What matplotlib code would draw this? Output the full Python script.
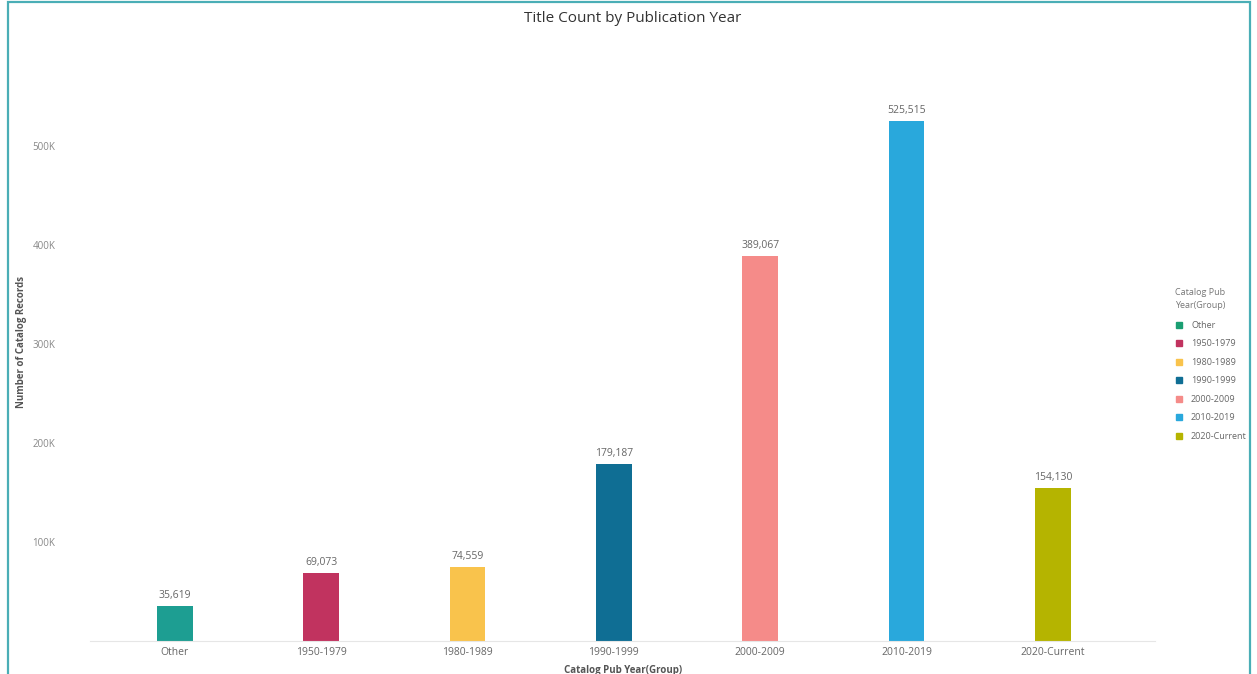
import matplotlib
matplotlib.use("Agg")
import matplotlib.pyplot as plt
from matplotlib.patches import Rectangle
from matplotlib.lines import Line2D

categories = ["Other", "1950-1979", "1980-1989", "1990-1999", "2000-2009", "2010-2019", "2020-Current"]
values = [35619, 69073, 74559, 179187, 389067, 525515, 154130]
colors = ["#1d9e92", "#c1335f", "#f9c34c", "#0f6e94", "#f58b89", "#29a8dc", "#b5b400"]
legend_colors = ["#1a9e72", "#c1335f", "#f9c34c", "#0f6e94", "#f58b89", "#29a8dc", "#b5b400"]
ytick_vals = [100000, 200000, 300000, 400000, 500000]
ytick_labels = ["100K", "200K", "300K", "400K", "500K"]

plt.rcParams['font.family'] = ['Open Sans', 'DejaVu Sans']

fig = plt.figure(figsize=(12.57, 6.74), dpi=100)
ax = fig.add_axes([0.0716, 0.049, 0.8474, 0.887])

x = list(range(len(categories)))
ax.bar(x, values, width=0.245, color=colors)
for xi, v in zip(x, values):
    ax.text(xi, v + 5000, f"{v:,}", ha="center", va="bottom", fontsize=7.5, color="#666666")

ax.set_xlim(-0.58, 6.7)
ax.set_ylim(0, 604000)
ax.set_xticks(x)
ax.set_xticklabels(categories, fontsize=7.5, color="#666666")
ax.set_yticks(ytick_vals)
ax.set_yticklabels(ytick_labels, fontsize=7, color="#888888")
ax.tick_params(axis="x", length=0, pad=4)
ax.tick_params(axis="y", length=0, pad=25)
for s in ["top", "right", "left"]:
    ax.spines[s].set_visible(False)
ax.spines["bottom"].set_color("#e6e6e6")
ax.spines["bottom"].set_linewidth(0.8)

ax.set_xlabel("Catalog Pub Year(Group)", fontsize=7, fontweight="bold", color="#555555")
ax.xaxis.set_label_coords(0.5, -0.041)
ax.set_ylabel("Number of Catalog Records", fontsize=7, fontweight="bold", color="#555555")
ax.yaxis.set_label_coords(-0.059, 0.5)

fig.text(0.503, 0.972, "Title Count by Publication Year", ha="center", va="center", fontsize=11, color="#333333")

# legend
handles = [Line2D([0], [0], marker="s", linestyle="none", markersize=5,
                  markerfacecolor=c, markeredgecolor=c) for c in legend_colors]
leg = fig.legend(handles, categories, loc="upper left", bbox_to_anchor=(0.931, 0.58),
                 frameon=False, fontsize=6.5, title="Catalog Pub\nYear(Group)",
                 title_fontsize=6.5, handletextpad=0.8, labelspacing=1.05, borderpad=0,
                 handlelength=1.0)
leg._legend_box.align = "left"
leg._legend_box.sep = 8
for t in leg.get_texts():
    t.set_color("#666666")
leg.get_title().set_color("#777777")
leg.get_title().set_linespacing(1.6)

# teal frame
fig.patches.append(Rectangle((8 / 1257, -0.05), (1250 - 8) / 1257, 1.0 - 2 / 674 + 0.05,
                             transform=fig.transFigure, fill=False,
                             edgecolor="#4aaeb6", linewidth=1.6))

fig.savefig("out.png", dpi=100)
